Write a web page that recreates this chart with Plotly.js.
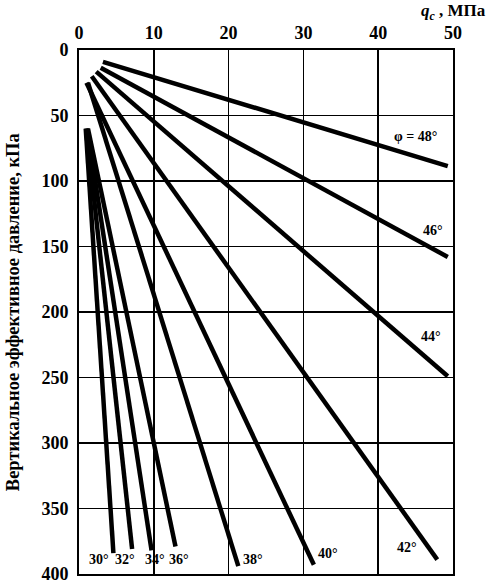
<!DOCTYPE html>
<html><head><meta charset="utf-8">
<script src="https://cdn.plot.ly/plotly-3.0.1.min.js"></script>
<style>html,body{margin:0;padding:0;background:#fff;}#chart{width:488px;height:584px;}</style>
</head><body><div id="chart"></div>
<script>
var phi = [30, 32, 34, 36, 38, 40, 42, 44, 46, 48];
var qcStart = [0.9, 1.0, 1.1, 1.2, 1.2, 1.0, 1.7, 2.3, 2.9, 3.2];
var sigmaStart = [60, 60, 60, 60, 25, 25, 20, 16.5, 13.5, 9];
var qcEnd = [4.6, 7.1, 9.7, 12.9, 21.3, 31.4, 47.9, 49.3, 49.3, 49.3];
var sigmaEnd = [384, 381, 382, 379, 394, 393, 389, 249, 158, 88.6];
var labelText = ['30°', '32°', '34°', '36°', '38°', '40°', '42°', '44°', '46°', 'φ = 48°'];
var labelQc = [2.7, 6.2, 10.2, 13.4, 23.3, 33.3, 43.8, 47.0, 47.3, 45.0];
var labelSigma = [389, 389, 389, 389, 389, 384, 380, 219, 138, 66];

var traces = phi.map(function (p, i) {
  return {
    type: 'scatter', mode: 'lines',
    x: [qcStart[i], qcEnd[i]], y: [sigmaStart[i], sigmaEnd[i]],
    line: {color: '#000', width: 4.5},
    hoverinfo: 'skip', showlegend: false
  };
});

var annotations = labelText.map(function (t, i) {
  return {
    x: labelQc[i], y: labelSigma[i], xref: 'x', yref: 'y',
    text: '<b>' + t + '</b>', showarrow: false,
    font: {family: 'Liberation Serif', size: 14, color: '#000'}
  };
});
annotations.push({
  xref: 'paper', yref: 'paper', x: 1.093, y: 1.072, xanchor: 'right', yanchor: 'middle',
  text: '<b><i>q</i><sub><i>c</i></sub> , МПа</b>', showarrow: false,
  font: {family: 'Liberation Serif', size: 17, color: '#000'}
});
annotations.push({
  xref: 'paper', yref: 'paper', x: -0.176, y: 0.5, xanchor: 'center', yanchor: 'middle',
  textangle: -90,
  text: '<b>Вертикальное эффективное давление, кПа</b>', showarrow: false,
  font: {family: 'Liberation Serif', size: 18.5, color: '#000'}
});

var axisFont = {family: 'Liberation Serif', size: 18, color: '#000'};
var layout = {
  width: 488, height: 584,
  margin: {l: 79, r: 35, t: 50, b: 10},
  paper_bgcolor: '#fff', plot_bgcolor: '#fff',
  showlegend: false,
  font: {family: 'Liberation Serif', color: '#000'},
  xaxis: {
    side: 'top', range: [0, 50], dtick: 10, tick0: 0,
    showgrid: true, gridcolor: '#000', gridwidth: 1.6,
    showline: true, linecolor: '#000', linewidth: 2, mirror: true,
    zeroline: false, ticks: '', tickfont: axisFont, ticklabelstandoff: 2,
    ticklabeloverflow: 'allow', automargin: false,
    tickprefix: '<b>', ticksuffix: '</b>'
  },
  yaxis: {
    range: [400, 0], dtick: 50, tick0: 0,
    showgrid: true, gridcolor: '#000', gridwidth: 1.6,
    showline: true, linecolor: '#000', linewidth: 2, mirror: true,
    zeroline: false, ticks: '', tickfont: axisFont, ticklabelstandoff: 5,
    ticklabeloverflow: 'allow', automargin: false,
    tickprefix: '<b>', ticksuffix: '</b>'
  },
  annotations: annotations
};
Plotly.newPlot('chart', traces, layout, {displayModeBar: false, staticPlot: true});
</script></body></html>
